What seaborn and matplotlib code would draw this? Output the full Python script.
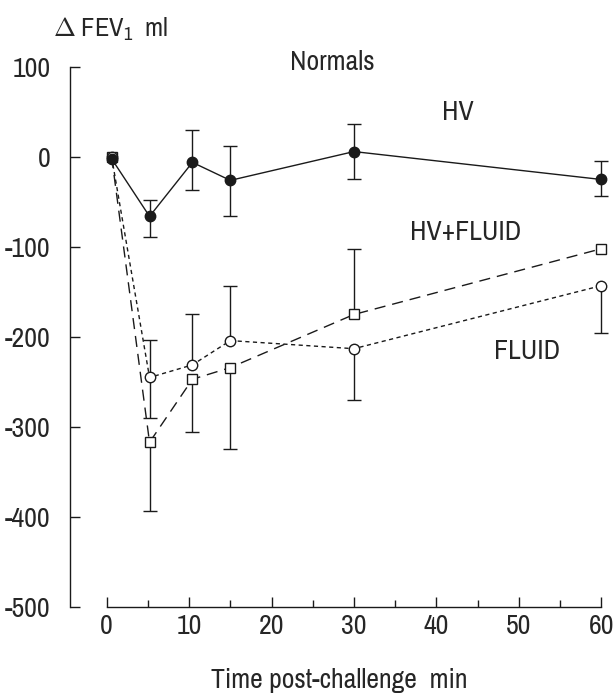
import numpy as np
import pandas as pd
import matplotlib
matplotlib.use("Agg")
import matplotlib.pyplot as plt
from matplotlib import font_manager
from matplotlib.ticker import MultipleLocator
import seaborn as sns

# time points (min), as placed on the original plot
time = [0.6, 5.2, 10.4, 15.0, 30.0, 60.0]

# HV (filled circles, solid)
hv = [-2, -66, -6, -26, 6, -25]
hv_lo = [np.nan, 23, 31, 40, 31, 18]
hv_hi = [np.nan, 18, 36, 38, 31, 21]

# FLUID (open circles, dotted)
fluid = [0, -245, -231, -204, -213, -143]
fluid_lo = [np.nan, 45, np.nan, np.nan, 57, 53]
fluid_hi = [np.nan, 42, 57, 61, np.nan, np.nan]

# HV+FLUID (open squares, dashed)
hvfl = [0, -317, -247, -234, -175, -102]
hvfl_lo = [np.nan, 76, 59, 90, np.nan, np.nan]
hvfl_hi = [np.nan, np.nan, np.nan, np.nan, 73, np.nan]

sns.set_style("ticks")
names = sorted({f.name for f in font_manager.fontManager.ttflist})
narrow = [n for n in names if 'Narrow' in n or 'Condensed' in n]
fam = narrow[0] if narrow else 'Liberation Sans'
plt.rcParams['font.family'] = [fam, 'Liberation Sans', 'DejaVu Sans']
plt.rcParams['axes.unicode_minus'] = False
plt.rcParams['mathtext.fontset'] = 'custom'
plt.rcParams['mathtext.rm'] = fam
plt.rcParams['mathtext.it'] = fam

fs = 20 if narrow else 16

fig = plt.figure(figsize=(6.13, 6.95), dpi=100)
ax = fig.add_axes([0.1142, 0.1266, 0.880, 0.790])

ink = '#1a1a1a'

def draw(y, lo, hi, ls, marker, filled, ms):
    df = pd.DataFrame({'t': time, 'v': y})
    sns.lineplot(data=df, x='t', y='v', ax=ax, color=ink, linestyle=ls, lw=1.0,
                 marker=marker, markersize=ms, markeredgecolor=ink,
                 markerfacecolor=ink if filled else 'white', markeredgewidth=1.0,
                 zorder=3)
    t = np.array(time, float)
    y = np.array(y, float)
    for err, sign in [(np.array(lo, float), -1), (np.array(hi, float), 1)]:
        m = ~np.isnan(err)
        end = y[m] + sign * err[m]
        ax.vlines(t[m], y[m], end, color=ink, lw=1.0, zorder=2)
        ax.plot(t[m], end, ls='none', marker='_', ms=10, mew=1.0, color=ink, zorder=2)

draw(hvfl, hvfl_lo, hvfl_hi, (0, (8, 5)), 's', False, 6.5)
draw(fluid, fluid_lo, fluid_hi, (0, (3, 2.5)), 'o', False, 7.5)
draw(hv, hv_lo, hv_hi, '-', 'o', True, 7.5)

ax.set_xlim(-4.45, 61)
ax.set_ylim(-500, 110)
ax.spines['top'].set_visible(False)
ax.spines['right'].set_visible(False)
ax.spines['bottom'].set_bounds(0, 60)
ax.spines['left'].set_bounds(-500, 100)
for s in ['bottom', 'left']:
    ax.spines[s].set_linewidth(1.0)
    ax.spines[s].set_color(ink)

ax.set_xticks(range(0, 61, 10))
ax.xaxis.set_minor_locator(MultipleLocator(5))
ax.set_yticks(range(-500, 101, 100))
ax.tick_params(axis='both', which='major', direction='in', labelsize=fs,
               color=ink, width=1.0, length=7)
ax.tick_params(axis='x', which='major', pad=5)
ax.tick_params(axis='x', which='minor', direction='in', length=4.8, width=1.0, color=ink)
ax.tick_params(axis='y', which='major', pad=14)

ax.set_xlabel('Time post-challenge  min', fontsize=fs, labelpad=21)
ax.set_ylabel('')

ax.text(27.4, 105, 'Normals', fontsize=fs, ha='center', va='center')
ax.text(42.6, 49, 'HV', fontsize=fs, ha='center', va='center')
ax.text(43.5, -84, 'HV+FLUID', fontsize=fs, ha='center', va='center')
ax.text(51, -216, 'FLUID', fontsize=fs, ha='center', va='center')

fig.text(0.0865, 0.957, r'$\Delta$ FEV$_1$  ml', fontsize=fs - 1, ha='left', va='center')

fig.savefig('out.png', dpi=100, facecolor='white')
